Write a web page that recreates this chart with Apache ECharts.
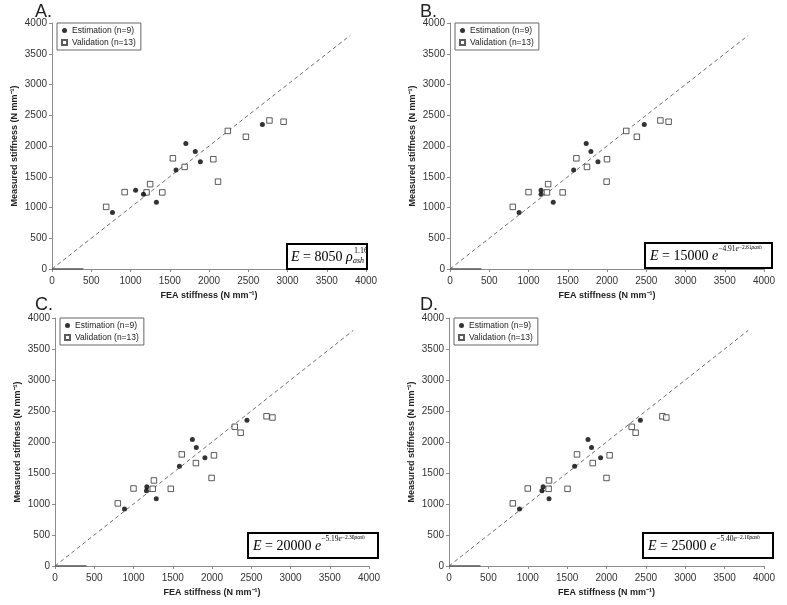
<!DOCTYPE html>
<html><head><meta charset="utf-8">
<script src="https://cdn.jsdelivr.net/npm/echarts@6/dist/echarts.min.js"></script>
<style>html,body{margin:0;padding:0;background:#fff}#c{width:787px;height:605px}</style>
</head><body><div id="c"></div>
<script>
// ---- data ----
const axisMin = 0, axisMax = 4000, axisStep = 500;
const measuredEst = [920, 1280, 1215, 1085, 1610, 2040, 1910, 1745, 2350];
const measuredVal = [1010, 1250, 1245, 1380, 1245, 1800, 1660, 1785, 1420, 2245, 2150, 2415, 2395];
const feaEstA = [770, 1065, 1165, 1330, 1580, 1705, 1825, 1890, 2680];
const feaValA = [690, 925, 1205, 1250, 1405, 1540, 1690, 2055, 2115, 2240, 2470, 2770, 2950];
const feaEstB = [880, 1160, 1160, 1315, 1575, 1735, 1795, 1885, 2475];
const feaValB = [800, 1000, 1235, 1250, 1435, 1610, 1745, 2000, 1995, 2245, 2380, 2680, 2785];
const feaEstC = [885, 1170, 1165, 1290, 1585, 1750, 1800, 1910, 2445];
const feaValC = [800, 1000, 1245, 1260, 1475, 1615, 1795, 2025, 1995, 2290, 2365, 2695, 2770];
const feaEstD = [895, 1195, 1180, 1270, 1595, 1765, 1810, 1925, 2430];
const feaValD = [810, 1000, 1265, 1270, 1505, 1625, 1825, 2040, 2000, 2320, 2370, 2710, 2760];
const identityLine = [[0, 0], [3800, 3800]];
const axisSegment = [[0, 0], [400, 0]];
const panelLetters = ['A.', 'B.', 'C.', 'D.'];
const estName = 'Estimation (n=9)';
const valName = 'Validation (n=13)';
const xTitle = 'FEA stiffness (N mm\u207B\u00B9)';
const yTitle = 'Measured stiffness (N mm\u207B\u00B9)';
const coefs = ['8050', '15000', '20000', '25000'];
const exps = [['1.16'], ['\u22124.91', '\u22122.61'], ['\u22125.19', '\u22122.30'], ['\u22125.40', '\u22122.10']];

const feaEst = [feaEstA, feaEstB, feaEstC, feaEstD];
const feaVal = [feaValA, feaValB, feaValC, feaValD];

// ---- layout ----
const grids = [
  {left: 52, top: 23, width: 314, height: 246},
  {left: 450, top: 23, width: 314, height: 246},
  {left: 55, top: 318, width: 314, height: 248},
  {left: 449, top: 318, width: 315, height: 248}
];
const sans = 'Liberation Sans';
const serif = 'Liberation Serif';

const zip = (xs, ys) => xs.map((x, i) => [x, ys[i]]);
const plain = (v) => String(v);

const xAxes = grids.map((g, i) => ({
  type: 'value', gridIndex: i, min: axisMin, max: axisMax, interval: axisStep,
  name: xTitle, nameLocation: 'middle', nameGap: 22,
  nameTextStyle: {fontWeight: 'bold', fontSize: 9, color: '#222', fontFamily: sans},
  axisLine: {lineStyle: {color: '#8c8c8c'}},
  axisTick: {length: 3, lineStyle: {color: '#8c8c8c'}},
  axisLabel: {fontSize: 10, color: '#333', margin: 7, fontFamily: sans, formatter: plain},
  splitLine: {show: false}
}));
const yAxes = grids.map((g, i) => ({
  type: 'value', gridIndex: i, min: axisMin, max: axisMax, interval: axisStep,
  name: yTitle, nameLocation: 'middle', nameGap: 33,
  nameTextStyle: {fontWeight: 'bold', fontSize: 9, color: '#222', fontFamily: sans},
  axisLine: {show: true, lineStyle: {color: '#8c8c8c'}},
  axisTick: {show: true, length: 3, lineStyle: {color: '#8c8c8c'}},
  axisLabel: {fontSize: 10, color: '#333', margin: 5, fontFamily: sans, formatter: plain},
  splitLine: {show: false}
}));

const series = [];
grids.forEach((g, i) => {
  series.push({
    type: 'line', xAxisIndex: i, yAxisIndex: i, data: identityLine, symbol: 'none', silent: true,
    lineStyle: {color: '#707070', width: 1, type: [4, 3]}, z: 1
  });
  series.push({
    type: 'line', xAxisIndex: i, yAxisIndex: i, data: axisSegment, symbol: 'none', silent: true,
    lineStyle: {color: '#555', width: 1.5}, z: 1
  });
  series.push({
    name: estName, type: 'scatter', xAxisIndex: i, yAxisIndex: i,
    data: zip(feaEst[i], measuredEst), symbol: 'circle', symbolSize: 5,
    itemStyle: {color: '#000'}, z: 3
  });
  series.push({
    name: valName, type: 'scatter', xAxisIndex: i, yAxisIndex: i,
    data: zip(feaVal[i], measuredVal), symbol: 'rect', symbolSize: 5.5,
    itemStyle: {color: '#fff', borderColor: '#333', borderWidth: 1}, z: 2
  });
});

const legends = grids.map((g) => ({
  orient: 'vertical', left: g.left + 5, top: g.top,
  data: [{name: estName, icon: 'circle'}, {name: valName, icon: 'rect'}],
  borderColor: '#666', borderWidth: 1, padding: [3, 5, 3, 4], itemGap: 3,
  itemWidth: 5, itemHeight: 5, backgroundColor: '#fff',
  textStyle: {fontSize: 8.5, color: '#222', fontFamily: sans}
}));

// ---- annotations ----
const graphics = [];
const letterPos = [[35, 12], [420, 12], [35, 305], [420, 305]];
panelLetters.forEach((t, i) => {
  graphics.push({type: 'text', x: letterPos[i][0], y: letterPos[i][1], z: 50,
    style: {text: t, fontSize: 18, fontFamily: sans, fill: '#222', verticalAlign: 'middle'}});
});
const boxes = [[287, 244, 80, 25], [645, 243, 127, 25], [248, 533, 130, 25], [643, 533, 130, 25]];
const richStyles = {
  i: {fontStyle: 'italic', fontFamily: serif, fontSize: 14, lineHeight: 22},
  s1: {fontFamily: serif, fontSize: 7.5, lineHeight: 13, verticalAlign: 'top'},
  s1i: {fontFamily: serif, fontStyle: 'italic', fontSize: 7.5, lineHeight: 13, verticalAlign: 'top'},
  s2: {fontFamily: serif, fontSize: 5.5, lineHeight: 9, verticalAlign: 'top'},
  s2i: {fontFamily: serif, fontStyle: 'italic', fontSize: 5.5, lineHeight: 9, verticalAlign: 'top'}
};
boxes.forEach((b, i) => {
  graphics.push({type: 'rect', z: 100, shape: {x: b[0], y: b[1], width: b[2], height: b[3]},
    style: {fill: '#fff', stroke: '#000', lineWidth: 2}});
  let txt;
  if (i === 0) {
    txt = '{i|E} = ' + coefs[i] + ' {i|\u03C1}';
  } else {
    txt = '{i|E} = ' + coefs[i] + ' {i|e}{s1|' + exps[i][0] + '}{s1i|e}{s2|' + exps[i][1] + '}{s2i|\u03C1ash}';
  }
  graphics.push({type: 'text', z: 101, x: b[0] + (i === 0 ? 4 : 5), y: b[1] + 2,
    style: {text: txt, rich: richStyles, fontFamily: serif, fontSize: 14, lineHeight: 22,
      fill: '#000', verticalAlign: 'top'}});
  if (i === 0) {
    graphics.push({type: 'text', z: 101, x: b[0] + 67, y: b[1] + 7,
      style: {text: exps[0][0], fontFamily: serif, fontSize: 8, fill: '#000', verticalAlign: 'middle'}});
    graphics.push({type: 'text', z: 101, x: b[0] + 66, y: b[1] + 17,
      style: {text: 'ash', fontFamily: serif, fontStyle: 'italic', fontSize: 8, fill: '#000', verticalAlign: 'middle'}});
  }
});

const chart = echarts.init(document.getElementById('c'), null, {renderer: 'canvas'});
chart.setOption({
  animation: false,
  backgroundColor: '#fff',
  grid: grids,
  xAxis: xAxes,
  yAxis: yAxes,
  legend: legends,
  series: series,
  graphic: graphics
});
</script>
</body></html>
